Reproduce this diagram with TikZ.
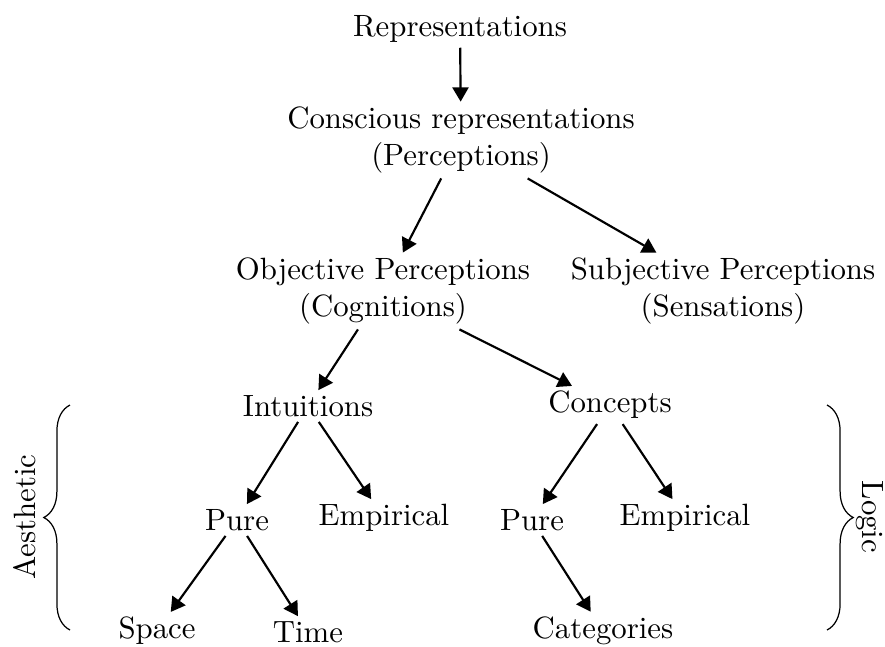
\documentclass[tikz,border=0pt]{standalone}
\usetikzlibrary{arrows.meta,decorations.pathreplacing}
\begin{document}
\begin{tikzpicture}[x=0.3247pt,y=-0.3247pt,
  lbl/.style={align=center,inner sep=1.5pt},
  arr/.style={line width=0.7pt,-{Triangle[length=4.6pt,width=5.2pt]}},
  brc/.style={decorate,decoration={brace,amplitude=8.5pt},line width=0.4pt}]
\useasboundingbox (0,0) rectangle (885,646);
\node[lbl] (rep) at (460,29) {Representations};
\node[lbl] (con) at (461,140) {Conscious representations\\(Perceptions)};
\node[lbl] (obj) at (383,291) {Objective Perceptions\\(Cognitions)};
\node[lbl] (subj) at (723,291) {Subjective Perceptions\\(Sensations)};
\node[lbl] (int) at (308,406) {Intuitions};
\node[lbl] (conc) at (610,405) {Concepts};
\node[lbl] (pureL) at (237,520) {Pure};
\node[lbl] (empL) at (384,518) {Empirical};
\node[lbl] (pureR) at (532,520) {Pure};
\node[lbl] (empR) at (685,518) {Empirical};
\node[lbl] (space) at (157,631) {Space};
\node[lbl] (time) at (308,632) {Time};
\node[lbl] (cat) at (603,631) {Categories};
\draw[arr] (rep) -- (con);
\draw[arr] (con) -- (obj);
\draw[arr] (con) -- (subj);
\draw[arr] (obj) -- (int);
\draw[arr] (obj) -- (conc);
\draw[arr] (int) -- (pureL);
\draw[arr] (int) -- (empL);
\draw[arr] (conc) -- (pureR);
\draw[arr] (conc) -- (empR);
\draw[arr] (pureL) -- (space);
\draw[arr] (pureL) -- (time);
\draw[arr] (pureR) -- (cat);
\coordinate (lb1) at (70,630);
\coordinate (lb2) at (70,405);
\coordinate (rb1) at (827,405);
\coordinate (rb2) at (827,630);
\draw[brc] (lb1) -- (lb2);
\draw[brc] (rb1) -- (rb2);
\node[rotate=90] (aes) at (25,517) {Aesthetic};
\node[rotate=-90] (log) at (870,517) {Logic};
\end{tikzpicture}
\end{document}
